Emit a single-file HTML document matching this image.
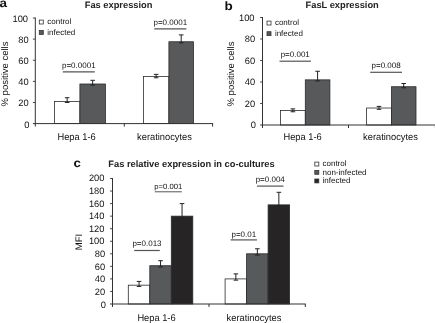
<!DOCTYPE html>
<html><head><meta charset="utf-8"><title>Fas / FasL expression</title>
<style>
html,body{margin:0;padding:0;background:#fff;}
body{width:435px;height:323px;overflow:hidden;}
svg{display:block;font-family:"Liberation Sans", sans-serif;will-change:transform;transform:translateZ(0);}
svg text{font-family:"Liberation Sans", sans-serif;text-rendering:geometricPrecision;}
</style></head>
<body>
<svg width="435" height="323" viewBox="0 0 435 323">
<rect x="0" y="0" width="435" height="323" fill="#ffffff"/>
<rect x="54.4" y="101.42" width="25.5" height="22.18" fill="#ffffff" stroke="#2b2b2b" stroke-width="0.8"/>
<line x1="67.15" y1="97.73" x2="67.15" y2="102.48" stroke="#222" stroke-width="1"/>
<line x1="64.85" y1="97.73" x2="69.45" y2="97.73" stroke="#222" stroke-width="1"/>
<line x1="64.85" y1="102.48" x2="69.45" y2="102.48" stroke="#222" stroke-width="1"/>
<rect x="79.9" y="84.0" width="25.5" height="39.6" fill="#58595b" stroke="#2b2b2b" stroke-width="0.8"/>
<line x1="92.65" y1="80.3" x2="92.65" y2="85.06" stroke="#222" stroke-width="1"/>
<line x1="90.35" y1="80.3" x2="94.95" y2="80.3" stroke="#222" stroke-width="1"/>
<line x1="90.35" y1="85.06" x2="94.95" y2="85.06" stroke="#222" stroke-width="1"/>
<rect x="143.4" y="76.5" width="25.5" height="47.1" fill="#ffffff" stroke="#2b2b2b" stroke-width="0.8"/>
<line x1="156.15" y1="74.39" x2="156.15" y2="77.77" stroke="#222" stroke-width="1"/>
<line x1="153.85" y1="74.39" x2="158.45" y2="74.39" stroke="#222" stroke-width="1"/>
<line x1="153.85" y1="77.77" x2="158.45" y2="77.77" stroke="#222" stroke-width="1"/>
<rect x="168.9" y="41.76" width="24.6" height="81.84" fill="#58595b" stroke="#2b2b2b" stroke-width="0.8"/>
<line x1="181.2" y1="34.9" x2="181.2" y2="42.82" stroke="#222" stroke-width="1"/>
<line x1="178.9" y1="34.9" x2="183.5" y2="34.9" stroke="#222" stroke-width="1"/>
<line x1="178.9" y1="42.82" x2="183.5" y2="42.82" stroke="#222" stroke-width="1"/>
<line x1="35.3" y1="17.5" x2="35.3" y2="126.6" stroke="#333" stroke-width="1"/>
<line x1="32.9" y1="123.6" x2="213.1" y2="123.6" stroke="#333" stroke-width="1"/>
<text x="29.4" y="127.55" font-size="9.3" text-anchor="end" font-weight="normal" fill="#111111">0</text>
<line x1="32.9" y1="102.48" x2="35.3" y2="102.48" stroke="#333" stroke-width="0.9"/>
<text x="28.7" y="106.38" font-size="9.3" text-anchor="end" font-weight="normal" fill="#111111">20</text>
<line x1="32.9" y1="81.36" x2="35.3" y2="81.36" stroke="#333" stroke-width="0.9"/>
<text x="28.7" y="85.21" font-size="9.3" text-anchor="end" font-weight="normal" fill="#111111">40</text>
<line x1="32.9" y1="60.24" x2="35.3" y2="60.24" stroke="#333" stroke-width="0.9"/>
<text x="28.7" y="64.04" font-size="9.3" text-anchor="end" font-weight="normal" fill="#111111">60</text>
<line x1="32.9" y1="39.12" x2="35.3" y2="39.12" stroke="#333" stroke-width="0.9"/>
<text x="28.7" y="42.87" font-size="9.3" text-anchor="end" font-weight="normal" fill="#111111">80</text>
<line x1="32.9" y1="18.0" x2="35.3" y2="18.0" stroke="#333" stroke-width="0.9"/>
<text x="28.0" y="21.7" font-size="9.3" text-anchor="end" font-weight="normal" fill="#111111">100</text>
<line x1="124.3" y1="123.6" x2="124.3" y2="126.6" stroke="#333" stroke-width="1"/>
<line x1="212.6" y1="123.6" x2="212.6" y2="126.6" stroke="#333" stroke-width="1"/>
<text transform="translate(76.6,139.5) scale(0.96,1)" font-size="9.7" text-anchor="middle" font-weight="normal" fill="#111111">Hepa 1-6</text>
<text transform="translate(164.5,139.5) scale(0.96,1)" font-size="9.7" text-anchor="middle" font-weight="normal" fill="#111111">keratinocytes</text>
<text transform="translate(7.8,74) rotate(-90)" font-size="9.5" text-anchor="middle" fill="#111111">% positive cells</text>
<text transform="translate(-0.6,7.4) scale(1.12,1)" font-size="12" text-anchor="start" font-weight="bold" fill="#111">a</text>
<text x="118.6" y="8.0" font-size="9.3" text-anchor="middle" font-weight="bold" fill="#222">Fas expression</text>
<rect x="39.3" y="20.1" width="4.0" height="3.9" fill="#ffffff" stroke="#333" stroke-width="0.8"/>
<text x="47.3" y="24.2" font-size="8.0" text-anchor="start" font-weight="normal" fill="#111111">control</text>
<rect x="39.3" y="30.5" width="4.0" height="3.9" fill="#58595b" stroke="#333" stroke-width="0.8"/>
<text x="47.3" y="34.6" font-size="8.0" text-anchor="start" font-weight="normal" fill="#111111">infected</text>
<line x1="62.8" y1="71.9" x2="94.8" y2="71.9" stroke="#555" stroke-width="1.2"/>
<text x="78.8" y="68.0" font-size="8.0" text-anchor="middle" font-weight="normal" fill="#111111">p=0.0001</text>
<line x1="154.2" y1="28.9" x2="186.4" y2="28.9" stroke="#555" stroke-width="1.2"/>
<text x="170.3" y="25.0" font-size="8.0" text-anchor="middle" font-weight="normal" fill="#111111">p=0.0001</text>
<rect x="280.5" y="110.49" width="24.8" height="14.51" fill="#ffffff" stroke="#2b2b2b" stroke-width="0.8"/>
<line x1="292.9" y1="108.88" x2="292.9" y2="111.78" stroke="#222" stroke-width="1"/>
<line x1="290.6" y1="108.88" x2="295.2" y2="108.88" stroke="#222" stroke-width="1"/>
<line x1="290.6" y1="111.78" x2="295.2" y2="111.78" stroke="#222" stroke-width="1"/>
<rect x="305.3" y="79.85" width="24.6" height="45.15" fill="#58595b" stroke="#2b2b2b" stroke-width="0.8"/>
<line x1="317.6" y1="71.25" x2="317.6" y2="80.93" stroke="#222" stroke-width="1"/>
<line x1="315.3" y1="71.25" x2="319.9" y2="71.25" stroke="#222" stroke-width="1"/>
<line x1="315.3" y1="80.93" x2="319.9" y2="80.93" stroke="#222" stroke-width="1"/>
<rect x="366.6" y="108.02" width="24.8" height="16.98" fill="#ffffff" stroke="#2b2b2b" stroke-width="0.8"/>
<line x1="379.0" y1="106.4" x2="379.0" y2="109.31" stroke="#222" stroke-width="1"/>
<line x1="376.7" y1="106.4" x2="381.3" y2="106.4" stroke="#222" stroke-width="1"/>
<line x1="376.7" y1="109.31" x2="381.3" y2="109.31" stroke="#222" stroke-width="1"/>
<rect x="391.4" y="86.73" width="24.6" height="38.27" fill="#58595b" stroke="#2b2b2b" stroke-width="0.8"/>
<line x1="403.7" y1="83.5" x2="403.7" y2="87.81" stroke="#222" stroke-width="1"/>
<line x1="401.4" y1="83.5" x2="406.0" y2="83.5" stroke="#222" stroke-width="1"/>
<line x1="401.4" y1="87.81" x2="406.0" y2="87.81" stroke="#222" stroke-width="1"/>
<line x1="262.5" y1="17.0" x2="262.5" y2="128.0" stroke="#333" stroke-width="1"/>
<line x1="260.1" y1="125.0" x2="435.9" y2="125.0" stroke="#333" stroke-width="1"/>
<text x="255.9" y="128.3" font-size="9.3" text-anchor="end" font-weight="normal" fill="#111111">0</text>
<line x1="260.1" y1="103.5" x2="262.5" y2="103.5" stroke="#333" stroke-width="0.9"/>
<text x="255.2" y="106.84" font-size="9.3" text-anchor="end" font-weight="normal" fill="#111111">20</text>
<line x1="260.1" y1="82.0" x2="262.5" y2="82.0" stroke="#333" stroke-width="0.9"/>
<text x="255.2" y="85.38" font-size="9.3" text-anchor="end" font-weight="normal" fill="#111111">40</text>
<line x1="260.1" y1="60.5" x2="262.5" y2="60.5" stroke="#333" stroke-width="0.9"/>
<text x="255.2" y="63.92" font-size="9.3" text-anchor="end" font-weight="normal" fill="#111111">60</text>
<line x1="260.1" y1="39.0" x2="262.5" y2="39.0" stroke="#333" stroke-width="0.9"/>
<text x="255.2" y="42.46" font-size="9.3" text-anchor="end" font-weight="normal" fill="#111111">80</text>
<line x1="260.1" y1="17.5" x2="262.5" y2="17.5" stroke="#333" stroke-width="0.9"/>
<text x="254.5" y="21.0" font-size="9.3" text-anchor="end" font-weight="normal" fill="#111111">100</text>
<line x1="348.5" y1="125.0" x2="348.5" y2="128.0" stroke="#333" stroke-width="1"/>
<line x1="435.4" y1="125.0" x2="435.4" y2="128.0" stroke="#333" stroke-width="1"/>
<text transform="translate(302.6,139.9) scale(0.96,1)" font-size="9.7" text-anchor="middle" font-weight="normal" fill="#111111">Hepa 1-6</text>
<text transform="translate(390.5,139.9) scale(0.96,1)" font-size="9.7" text-anchor="middle" font-weight="normal" fill="#111111">keratinocytes</text>
<text transform="translate(234.3,74) rotate(-90)" font-size="9.5" text-anchor="middle" fill="#111111">% positive cells</text>
<text transform="translate(224.5,9.6) scale(1.12,1)" font-size="12" text-anchor="start" font-weight="bold" fill="#111">b</text>
<text x="342.2" y="8.0" font-size="9.3" text-anchor="middle" font-weight="bold" fill="#222">FasL expression</text>
<rect x="267" y="21.1" width="4.0" height="3.9" fill="#ffffff" stroke="#333" stroke-width="0.8"/>
<text x="274.9" y="25.2" font-size="8.0" text-anchor="start" font-weight="normal" fill="#111111">control</text>
<rect x="267" y="31.7" width="4.0" height="3.9" fill="#58595b" stroke="#333" stroke-width="0.8"/>
<text x="274.9" y="35.8" font-size="8.0" text-anchor="start" font-weight="normal" fill="#111111">infected</text>
<line x1="279.5" y1="61.2" x2="311" y2="61.2" stroke="#555" stroke-width="1.2"/>
<text x="295.25" y="57.3" font-size="8.0" text-anchor="middle" font-weight="normal" fill="#111111">p=0.001</text>
<line x1="370.2" y1="72.3" x2="402" y2="72.3" stroke="#555" stroke-width="1.2"/>
<text x="386.1" y="68.4" font-size="8.0" text-anchor="middle" font-weight="normal" fill="#111111">p=0.008</text>
<rect x="128.3" y="285.18" width="21.5" height="18.82" fill="#ffffff" stroke="#2b2b2b" stroke-width="0.8"/>
<line x1="139.05" y1="281.41" x2="139.05" y2="286.43" stroke="#222" stroke-width="1"/>
<line x1="136.75" y1="281.41" x2="141.35" y2="281.41" stroke="#222" stroke-width="1"/>
<line x1="136.75" y1="286.43" x2="141.35" y2="286.43" stroke="#222" stroke-width="1"/>
<rect x="149.8" y="265.72" width="21.5" height="38.28" fill="#58595b" stroke="#2b2b2b" stroke-width="0.8"/>
<line x1="160.55" y1="260.7" x2="160.55" y2="266.98" stroke="#222" stroke-width="1"/>
<line x1="158.25" y1="260.7" x2="162.85" y2="260.7" stroke="#222" stroke-width="1"/>
<line x1="158.25" y1="266.98" x2="162.85" y2="266.98" stroke="#222" stroke-width="1"/>
<rect x="171.3" y="216.15" width="21.5" height="87.85" fill="#272425" stroke="#2b2b2b" stroke-width="0.8"/>
<line x1="182.05" y1="203.6" x2="182.05" y2="217.41" stroke="#222" stroke-width="1"/>
<line x1="179.75" y1="203.6" x2="184.35" y2="203.6" stroke="#222" stroke-width="1"/>
<line x1="179.75" y1="217.41" x2="184.35" y2="217.41" stroke="#222" stroke-width="1"/>
<rect x="225.1" y="278.9" width="21.5" height="25.1" fill="#ffffff" stroke="#2b2b2b" stroke-width="0.8"/>
<line x1="235.85" y1="273.88" x2="235.85" y2="280.15" stroke="#222" stroke-width="1"/>
<line x1="233.55" y1="273.88" x2="238.15" y2="273.88" stroke="#222" stroke-width="1"/>
<line x1="233.55" y1="280.15" x2="238.15" y2="280.15" stroke="#222" stroke-width="1"/>
<rect x="246.6" y="253.8" width="21.5" height="50.2" fill="#58595b" stroke="#2b2b2b" stroke-width="0.8"/>
<line x1="257.35" y1="248.78" x2="257.35" y2="255.06" stroke="#222" stroke-width="1"/>
<line x1="255.05" y1="248.78" x2="259.65" y2="248.78" stroke="#222" stroke-width="1"/>
<line x1="255.05" y1="255.06" x2="259.65" y2="255.06" stroke="#222" stroke-width="1"/>
<rect x="268.1" y="204.86" width="21.5" height="99.14" fill="#272425" stroke="#2b2b2b" stroke-width="0.8"/>
<line x1="278.85" y1="192.31" x2="278.85" y2="206.11" stroke="#222" stroke-width="1"/>
<line x1="276.55" y1="192.31" x2="281.15" y2="192.31" stroke="#222" stroke-width="1"/>
<line x1="276.55" y1="206.11" x2="281.15" y2="206.11" stroke="#222" stroke-width="1"/>
<line x1="112.5" y1="178.0" x2="112.5" y2="307.0" stroke="#333" stroke-width="1"/>
<line x1="110.1" y1="304.0" x2="305.8" y2="304.0" stroke="#333" stroke-width="1"/>
<text x="105.8" y="307.6" font-size="9.3" text-anchor="end" font-weight="normal" fill="#111111">0</text>
<line x1="110.1" y1="291.45" x2="112.5" y2="291.45" stroke="#333" stroke-width="0.9"/>
<text x="105.1" y="294.97" font-size="9.3" text-anchor="end" font-weight="normal" fill="#111111">20</text>
<line x1="110.1" y1="278.9" x2="112.5" y2="278.9" stroke="#333" stroke-width="0.9"/>
<text x="105.1" y="282.34" font-size="9.3" text-anchor="end" font-weight="normal" fill="#111111">40</text>
<line x1="110.1" y1="266.35" x2="112.5" y2="266.35" stroke="#333" stroke-width="0.9"/>
<text x="105.1" y="269.71" font-size="9.3" text-anchor="end" font-weight="normal" fill="#111111">60</text>
<line x1="110.1" y1="253.8" x2="112.5" y2="253.8" stroke="#333" stroke-width="0.9"/>
<text x="105.1" y="257.08" font-size="9.3" text-anchor="end" font-weight="normal" fill="#111111">80</text>
<line x1="110.1" y1="241.25" x2="112.5" y2="241.25" stroke="#333" stroke-width="0.9"/>
<text x="104.4" y="244.45" font-size="9.3" text-anchor="end" font-weight="normal" fill="#111111">100</text>
<line x1="110.1" y1="228.7" x2="112.5" y2="228.7" stroke="#333" stroke-width="0.9"/>
<text x="104.4" y="231.82" font-size="9.3" text-anchor="end" font-weight="normal" fill="#111111">120</text>
<line x1="110.1" y1="216.15" x2="112.5" y2="216.15" stroke="#333" stroke-width="0.9"/>
<text x="104.4" y="219.19" font-size="9.3" text-anchor="end" font-weight="normal" fill="#111111">140</text>
<line x1="110.1" y1="203.6" x2="112.5" y2="203.6" stroke="#333" stroke-width="0.9"/>
<text x="104.4" y="206.56" font-size="9.3" text-anchor="end" font-weight="normal" fill="#111111">160</text>
<line x1="110.1" y1="191.05" x2="112.5" y2="191.05" stroke="#333" stroke-width="0.9"/>
<text x="104.4" y="193.93" font-size="9.3" text-anchor="end" font-weight="normal" fill="#111111">180</text>
<line x1="110.1" y1="178.5" x2="112.5" y2="178.5" stroke="#333" stroke-width="0.9"/>
<text x="104.4" y="181.3" font-size="9.3" text-anchor="end" font-weight="normal" fill="#111111">200</text>
<line x1="209.0" y1="304.0" x2="209.0" y2="307.0" stroke="#333" stroke-width="1"/>
<line x1="305.3" y1="304.0" x2="305.3" y2="307.0" stroke="#333" stroke-width="1"/>
<text transform="translate(156.5,321) scale(0.96,1)" font-size="9.7" text-anchor="middle" font-weight="normal" fill="#111111">Hepa 1-6</text>
<text transform="translate(254,321) scale(0.96,1)" font-size="9.7" text-anchor="middle" font-weight="normal" fill="#111111">keratinocytes</text>
<text transform="translate(82.4,242) rotate(-90)" font-size="9.5" text-anchor="middle" fill="#111111">MFI</text>
<text transform="translate(73.5,166.7) scale(1.1,1)" font-size="12" text-anchor="start" font-weight="bold" fill="#111">c</text>
<text x="108.3" y="166.6" font-size="9.3" text-anchor="start" font-weight="bold" fill="#222">Fas relative expression in co-cultures</text>
<rect x="314.8" y="162.1" width="4.0" height="3.9" fill="#ffffff" stroke="#333" stroke-width="0.8"/>
<text x="322.5" y="166.2" font-size="8.0" text-anchor="start" font-weight="normal" fill="#111111">control</text>
<rect x="314.8" y="170.4" width="4.0" height="3.9" fill="#58595b" stroke="#333" stroke-width="0.8"/>
<text x="322.5" y="174.5" font-size="8.0" text-anchor="start" font-weight="normal" fill="#111111">non-infected</text>
<rect x="314.8" y="179.0" width="4.0" height="3.9" fill="#272425" stroke="#333" stroke-width="0.8"/>
<text x="322.5" y="183.1" font-size="8.0" text-anchor="start" font-weight="normal" fill="#111111">infected</text>
<line x1="134.2" y1="250.5" x2="159.8" y2="250.5" stroke="#555" stroke-width="1.2"/>
<text x="147.0" y="246.3" font-size="8.0" text-anchor="middle" font-weight="normal" fill="#111111">p=0.013</text>
<line x1="154.9" y1="191.8" x2="181.8" y2="191.8" stroke="#555" stroke-width="1.0"/>
<text x="168.35" y="188.6" font-size="7.7" text-anchor="middle" font-weight="normal" fill="#111111">p=0.001</text>
<line x1="230.6" y1="239.9" x2="257" y2="239.9" stroke="#555" stroke-width="1.2"/>
<text x="243.8" y="236.7" font-size="8.0" text-anchor="middle" font-weight="normal" fill="#111111">p=0.01</text>
<line x1="257" y1="186.1" x2="283.5" y2="186.1" stroke="#555" stroke-width="1.2"/>
<text x="270.25" y="182.2" font-size="8.0" text-anchor="middle" font-weight="normal" fill="#111111">p=0.004</text>
</svg>
</body></html>
